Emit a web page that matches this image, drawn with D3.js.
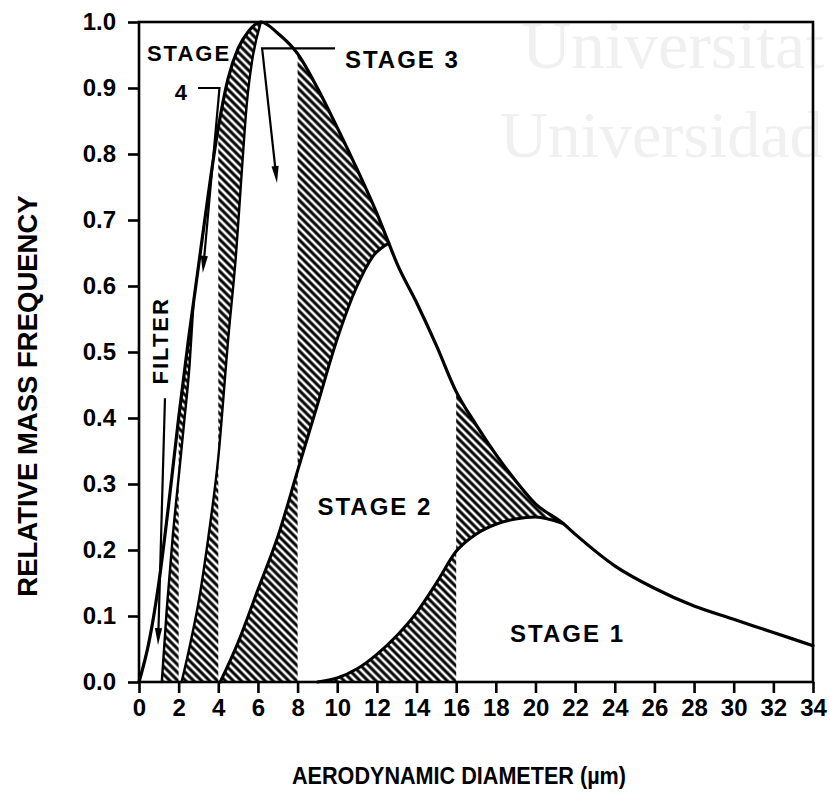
<!DOCTYPE html>
<html>
<head>
<meta charset="utf-8">
<script src="https://cdn.jsdelivr.net/npm/d3@7"></script>
<style>
  html, body { margin: 0; padding: 0; background: #fff; }
  svg { display: block; }
  text { font-family: "Liberation Sans", Arial, Helvetica, sans-serif; }
</style>
</head>
<body>
<svg id="chart" width="830" height="796"></svg>
<script>
// Total mass distribution: aerodynamic diameter (µm) vs relative mass frequency
const totalX = [0, 0.5, 1, 1.5, 2, 2.5, 2.75, 3, 3.5, 4, 4.5, 5, 5.5, 6.15, 7, 8, 9, 10, 11, 12, 12.6, 13, 14, 15, 16, 17, 18, 19, 20, 21.4, 22, 24, 26, 28, 30, 32, 34];
const totalY = [0, 0.06, 0.15, 0.27, 0.40, 0.52, 0.575, 0.63, 0.74, 0.84, 0.915, 0.96, 0.985, 1.0, 0.983, 0.952, 0.9, 0.84, 0.777, 0.71, 0.665, 0.635, 0.575, 0.51, 0.44, 0.39, 0.345, 0.305, 0.27, 0.24, 0.224, 0.176, 0.142, 0.115, 0.095, 0.075, 0.055];

// Stage collection curves (each rejoins the total curve)
const stage1X = [9, 10, 11, 12, 13, 14, 15, 16, 17, 18, 19, 20, 21.4];
const stage1Y = [0, 0.006, 0.02, 0.042, 0.07, 0.105, 0.15, 0.198, 0.224, 0.239, 0.247, 0.25, 0.24];
const stage2X = [4.1, 5, 6, 7, 8, 9, 10, 11, 11.8, 12.6];
const stage2Y = [0, 0.06, 0.14, 0.22, 0.32, 0.42, 0.52, 0.6, 0.645, 0.665];
const stage3X = [2.15, 2.6, 3, 3.5, 4, 4.5, 4.9, 5.2, 5.45, 5.7, 6.15];
const stage3Y = [0, 0.06, 0.12, 0.22, 0.34, 0.52, 0.65, 0.78, 0.88, 0.94, 1.0];
const stage4X = [1.15, 1.4, 1.7, 2.0, 2.3, 2.55, 2.75];
const stage4Y = [0, 0.11, 0.22, 0.31, 0.40, 0.48, 0.575];

// Stage cut-off diameters (µm): 16, 8, 4, 2
const cutoffs = [16, 8, 4, 2];

// Axis ticks
const xTicks = [0, 2, 4, 6, 8, 10, 12, 14, 16, 18, 20, 22, 24, 26, 28, 30, 32, 34];
const yTicks = [0.0, 0.1, 0.2, 0.3, 0.4, 0.5, 0.6, 0.7, 0.8, 0.9, 1.0];

const zip = (xs, ys) => xs.map((v, i) => [v, ys[i]]);
const curves = {
  total: zip(totalX, totalY),
  stage1: zip(stage1X, stage1Y),
  stage2: zip(stage2X, stage2Y),
  stage3: zip(stage3X, stage3Y),
  stage4: zip(stage4X, stage4Y)
};

// Shaded regions: beneath a stage curve left of its cut-off,
// and between the stage curve and the total curve right of it.
const regions = [
  { upper: "stage1", lower: null, from: stage1X[0], to: cutoffs[0] },
  { upper: "total", lower: "stage1", from: cutoffs[0], to: stage1X[stage1X.length - 1] },
  { upper: "stage2", lower: null, from: stage2X[0], to: cutoffs[1] },
  { upper: "total", lower: "stage2", from: cutoffs[1], to: stage2X[stage2X.length - 1] },
  { upper: "stage3", lower: null, from: stage3X[0], to: cutoffs[2] },
  { upper: "total", lower: "stage3", from: cutoffs[2], to: stage3X[stage3X.length - 1] },
  { upper: "stage4", lower: null, from: stage4X[0], to: cutoffs[3] },
  { upper: "total", lower: "stage4", from: cutoffs[3], to: stage4X[stage4X.length - 1] }
];

// Labels and pointers (data coordinates)
const stageLabels = [
  { text: "STAGE 1", x: 18.72, y: 0.061, size: 24 },
  { text: "STAGE 2", x: 9.0, y: 0.253, size: 24 },
  { text: "STAGE 3", x: 10.39, y: 0.930, size: 24 },
  { text: "STAGE", x: 0.40, y: 0.941, size: 22 },
  { text: "4", x: 1.80, y: 0.882, size: 22 }
];
const pointers = [
  [[1.31, 0.43], [0.96, 0.056]],
  [[2.98, 0.90], [4.06, 0.90], [3.22, 0.62]],
  [[9.89, 0.96], [6.21, 0.96], [6.96, 0.756]]
];
const filterLabel = { text: "FILTER", x: 1.06, y: 0.517 };

const svg = d3.select("#chart");
const W = 830, H = 796;
const margin = { left: 139, right: 17, top: 22, bottom: 114 };

const x = d3.scaleLinear().domain([0, 34]).range([margin.left, W - margin.right]);
const y = d3.scaleLinear().domain([0, 1]).range([H - margin.bottom, margin.top]);

// Faint background lettering
const serif = "'Liberation Serif', 'Times New Roman', serif";
const wm = svg.append("g").attr("fill", "#f0f0f0");
wm.append("text").attr("x", 522).attr("y", 68).attr("font-size", 68)
  .style("font-family", serif).text("Universitat");
wm.append("text").attr("x", 500).attr("y", 157).attr("font-size", 66)
  .style("font-family", serif).text("Universidad");

const defs = svg.append("defs");
const pat = defs.append("pattern").attr("id", "hatch")
  .attr("patternUnits", "userSpaceOnUse")
  .attr("width", 5.6).attr("height", 5.6)
  .attr("patternTransform", "rotate(-45)");
pat.append("line").attr("x1", 2.8).attr("y1", -1).attr("x2", 2.8).attr("y2", 6.6)
  .attr("stroke", "#000").attr("stroke-width", 3.0);

const areaUnder = d3.area()
  .x(d => x(d[0])).y0(y(0)).y1(d => y(d[1]))
  .curve(d3.curveMonotoneX);
const line = d3.line()
  .x(d => x(d[0])).y(d => y(d[1]))
  .curve(d3.curveMonotoneX);

const hatchG = svg.append("g");
regions.forEach((r, i) => {
  // keep the clip just inside the end of the lower curve so its closing edge never shows
  const trim = r.lower ? 2 : 0;
  defs.append("clipPath").attr("id", "clip" + i)
    .append("rect")
    .attr("x", x(r.from)).attr("y", y(1) - 5)
    .attr("width", x(r.to) - x(r.from) - trim)
    .attr("height", y(0) - y(1) + 5);
  let d = areaUnder(curves[r.upper]);
  if (r.lower) d += areaUnder(curves[r.lower]);
  hatchG.append("path")
    .attr("d", d)
    .attr("fill", "url(#hatch)")
    .attr("fill-rule", "evenodd")
    .attr("clip-path", `url(#clip${i})`);
});

// Curves
const curveG = svg.append("g").attr("fill", "none").attr("stroke", "#000")
  .attr("stroke-linejoin", "round").attr("stroke-linecap", "round");
curveG.append("path").attr("d", line(curves.total)).attr("stroke-width", 3.2);
["stage1", "stage2"].forEach(k =>
  curveG.append("path").attr("d", line(curves[k])).attr("stroke-width", 3));
["stage3", "stage4"].forEach(k =>
  curveG.append("path").attr("d", line(curves[k])).attr("stroke-width", 2.4));

// Frame and axes
svg.append("rect")
  .attr("x", x(0)).attr("y", y(1))
  .attr("width", x(34) - x(0)).attr("height", y(0) - y(1))
  .attr("fill", "none").attr("stroke", "#000").attr("stroke-width", 2.6);

const xAxis = svg.append("g")
  .attr("transform", `translate(0,${y(0)})`)
  .call(d3.axisBottom(x).tickValues(xTicks).tickSize(11).tickSizeOuter(0).tickPadding(6)
    .tickFormat(d3.format("d")));
const yAxis = svg.append("g")
  .attr("transform", `translate(${x(0)},0)`)
  .call(d3.axisLeft(y).tickValues(yTicks).tickSize(11).tickSizeOuter(0).tickPadding(12)
    .tickFormat(d3.format(".1f")));
[xAxis, yAxis].forEach(g => {
  g.select(".domain").remove();
  g.selectAll(".tick line").attr("stroke", "#000").attr("stroke-width", 2.6);
  g.selectAll(".tick text")
    .attr("fill", "#000")
    .style("font-family", "'Liberation Sans', Arial, sans-serif")
    .style("font-size", "24px").style("font-weight", "bold");
});

// Axis titles
svg.append("text")
  .attr("x", 292).attr("y", 784)
  .attr("textLength", 334).attr("lengthAdjust", "spacingAndGlyphs")
  .style("font-size", "24px").style("font-weight", "bold")
  .text("AERODYNAMIC DIAMETER (µm)");
svg.append("text")
  .attr("transform", `translate(37,${396}) rotate(-90)`)
  .attr("text-anchor", "middle")
  .style("font-size", "27.5px").style("font-weight", "bold")
  .text("RELATIVE MASS FREQUENCY");

// Stage labels
svg.append("g").selectAll("text").data(stageLabels).join("text")
  .attr("x", d => x(d.x)).attr("y", d => y(d.y))
  .style("font-size", d => d.size + "px").style("font-weight", "bold")
  .style("letter-spacing", "2px")
  .text(d => d.text);

svg.append("text")
  .attr("transform", `translate(${x(filterLabel.x) + 8},${y(filterLabel.y)}) rotate(-90)`)
  .attr("text-anchor", "middle")
  .style("font-size", "22px").style("font-weight", "bold").style("letter-spacing", "2px")
  .text(filterLabel.text);

// Pointer arrows
const arrowLen = 17, arrowHalf = 3.6;
const ptrG = svg.append("g");
pointers.forEach(pts => {
  const px = pts.map(p => [x(p[0]), y(p[1])]);
  const n = px.length;
  const [tx, ty] = px[n - 1], [sx, sy] = px[n - 2];
  const len = Math.hypot(tx - sx, ty - sy);
  const ux = (tx - sx) / len, uy = (ty - sy) / len;
  const bx = tx - ux * arrowLen, by = ty - uy * arrowLen;
  const shaft = px.slice(0, n - 1).concat([[bx + ux * 2, by + uy * 2]]);
  ptrG.append("path").attr("d", d3.line()(shaft))
    .attr("fill", "none").attr("stroke", "#000").attr("stroke-width", 2.2)
    .attr("stroke-linejoin", "miter");
  ptrG.append("path")
    .attr("d", d3.line()([[tx, ty], [bx - uy * arrowHalf, by + ux * arrowHalf], [bx + uy * arrowHalf, by - ux * arrowHalf]]) + "Z")
    .attr("fill", "#000");
});
</script>
</body>
</html>
